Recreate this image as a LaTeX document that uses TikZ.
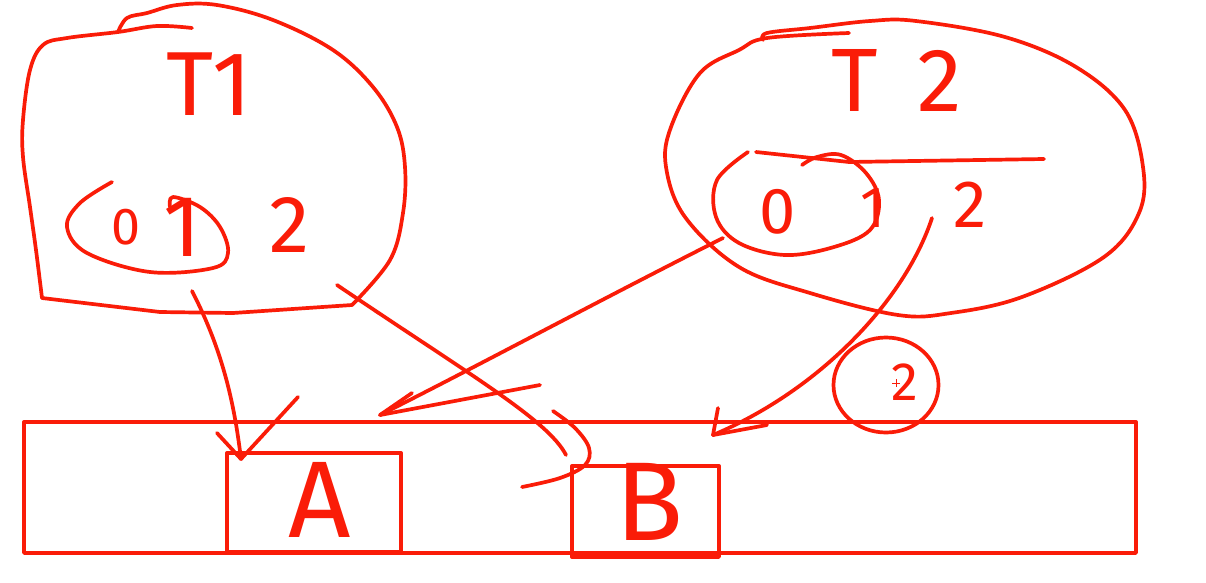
\documentclass[tikz,border=0pt]{standalone}
\usepackage{fontspec}
\newfontfamily\hand{Fira Sans}
\usetikzlibrary{shapes.geometric}
\definecolor{ink}{RGB}{250,28,8}
\newcommand\handsize[1]{\hand\fontsize{#1}{#1}\selectfont}
\begin{document}
\begin{tikzpicture}[x=1pt,y=-1pt,line width=3.7pt,line cap=round,line join=round,
  stroke/.style={draw=ink},
  box/.style={draw=ink,rectangle,inner sep=0pt,line width=3.4pt},
  txt/.style={text=ink,inner sep=0pt}]
\fill[white] (0,0) rectangle (1206,582);
\useasboundingbox (0,0) rectangle (1206,582);

% ---- T1 blob ----
\draw[stroke] plot[smooth,tension=0.6] coordinates {(192,28) (157,26) (118,32) (67,38) (43,45) (30,70) (23,120) (23,157) (30,207) (36,250) (42,298)}
  -- (160,312) -- (233,313) -- (352,305)
  -- plot[smooth,tension=0.6] coordinates {(352,305) (390,260) (403,213) (405,167) (397,127) (373,87) (333,50) (273,20) (217,5) (177,5) (147,13) (127,18) (118,32)};
\node[txt,font=\handsize{91}] (t1lbl) at (209,84) {T1};
\node[txt,font=\handsize{52}] (t1z) at (126,227) {0};
\node[txt,font=\handsize{87}] (t1o) at (182,227) {1};
\node[txt,font=\handsize{81}] (t1t) at (290,225) {2};
\draw[stroke] plot[smooth,tension=0.6] coordinates {(112,182) (80,203) (67,227) (87,253) (150,272) (213,268) (228,253) (220,227) (200,207) (173,197) (170,207)};

% ---- T2 blob ----
\draw[stroke] plot[smooth,tension=0.6] coordinates {(849,33) (767,38) (739,50) (700,73) (671,127) (666,167) (685,217) (739,267) (810,293) (898,315) (951,313) (1022,297) (1104,257) (1139,213) (1143,167) (1125,110) (1076,67) (1005,37) (916,21) (870,21) (810,28) (767,33) (763,40)};
\node[txt,font=\handsize{90}] (t2lbl) at (897,80) {T\kern40pt 2};
\draw[stroke] (756,152) -- (849,162) -- (1044,159);
\node[txt,font=\handsize{65}] (t2z) at (778,212) {0};
\node[txt,font=\handsize{58}] (t2o) at (873,208) {1};
\node[txt,font=\handsize{67}] (t2t) at (970,205) {2};
\draw[stroke] plot[smooth,tension=0.6] coordinates {(748,152) (717,180) (716,217) (739,243) (785,255) (834,247) (870,230) (879,200) (866,173) (841,155) (817,157) (802,165)};

% ---- memory ----
\node[box,minimum width=1112pt,minimum height=131pt] (mem) at (580,487.5) {};
\node[box,minimum width=174pt,minimum height=99pt] (boxA) at (314,502.5) {};
\node[box,minimum width=147pt,minimum height=91pt] (boxB) at (645.5,511.5) {};
\node[txt,font=\handsize{109}] (la) at (320,500) {A};
\node[txt,font=\handsize{112}] (lb) at (650,502) {B};

% ---- circled 2 ----
\node[draw=ink,ellipse,minimum width=105pt,minimum height=95pt,inner sep=0pt] (c2) at (886,385) {};
\node[txt,font=\handsize{54}] (c2t) at (905,382) {2};
\draw[ink,line width=1pt,line cap=butt] (892,383) -- (900,383) (896,379) -- (896,387);

% ---- connectors ----
\coordinate (s1) at (192,291); \coordinate (e1) at (241,459);
\draw[stroke] (s1) .. controls (225,355) and (235,410) .. (e1);
\draw[stroke] (e1) -- ++(-24,-26);
\draw[stroke] (e1) -- ++(57,-62);

\coordinate (s2) at (337,285); \coordinate (e2) at (566,455);
\draw[stroke] (s2) .. controls (470,375) and (548,420) .. (e2);
\draw[stroke] plot[smooth,tension=0.6] coordinates {(553,411) (575,428) (589,448) (585,465) (560,478) (522,487)};

\coordinate (s3) at (723,238); \coordinate (e3) at (380,415);
\draw[stroke] (s3) .. controls (600,300) and (470,370) .. (e3);
\draw[stroke] (e3) -- ++(32,-22);
\draw[stroke] (e3) -- ++(160,-30);

\coordinate (s4) at (932,218); \coordinate (e4) at (713,435);
\draw[stroke] (s4) .. controls (905,300) and (820,390) .. (e4);
\draw[stroke] (e4) -- ++(5,-27);
\draw[stroke] (e4) -- ++(54,-10);
\end{tikzpicture}
\end{document}
